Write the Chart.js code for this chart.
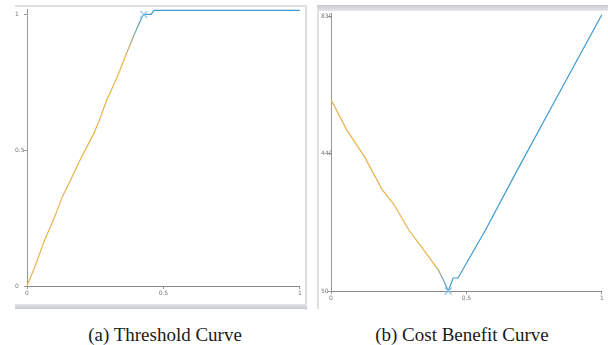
<!DOCTYPE html>
<html>
<head>
<meta charset="utf-8">
<script src="https://cdn.jsdelivr.net/npm/chart.js@4.4.0/dist/chart.umd.min.js"></script>
<style>
  body { margin: 0; background: #fff; width: 608px; height: 345px; overflow: hidden; position: relative; }
  .box { position: absolute; }
  canvas { position: absolute; }
  .cap { position: absolute; top: 325px; width: 260px; text-align: center; line-height: 19px;
         font-family: "Liberation Serif", serif; font-size: 19px; color: #1a1a1a; }
</style>
</head>
<body>
<!-- panel frames -->
<div class="box" style="left:15px;top:5px;width:292px;height:2px;background:#e0e0e4"></div>
<div class="box" style="left:305px;top:5px;width:2px;height:305px;background:#dcdcdf"></div>
<div class="box" style="left:15px;top:304px;width:292px;height:5px;background:linear-gradient(#e4e5ea,#c9cbd2)"></div>
<div class="box" style="left:317px;top:5px;width:2px;height:304px;background:#e0e0e3"></div>
<div class="box" style="left:317px;top:5px;width:291px;height:6px;background:linear-gradient(#c6c8ce,#e6e7ea)"></div>

<canvas id="threshold" width="291" height="304" style="left:15px;top:0px"></canvas>
<canvas id="costBenefit" width="287" height="310" style="left:321px;top:0px"></canvas>

<div class="cap" style="left:35px">(a) Threshold Curve</div>
<div class="cap" style="left:332px">(b) Cost Benefit Curve</div>

<script>
/* --------------- Threshold curve data --------------------- */
const thrX = [0, 0.03, 0.065, 0.10, 0.13, 0.16, 0.19, 0.217, 0.245, 0.265, 0.292, 0.33, 0.365, 0.392, 0.41, 0.424, 0.43, 0.455, 0.466, 0.6, 0.8, 1.0];
const thrY = [0, 0.074, 0.17, 0.25, 0.33, 0.39, 0.455, 0.507, 0.562, 0.61, 0.684, 0.768, 0.857, 0.923, 0.965, 0.995, 1.0, 1.0, 1.015, 1.015, 1.015, 1.015];
const thrMarker = [0.428, 1.0];
const thrXTicks = [0, 0.5, 1];
const thrYTicks = [0, 0.5, 1];

/* --------------- Cost benefit curve data --------------------- */
const cbX = [0, 0.058, 0.124, 0.189, 0.233, 0.287, 0.342, 0.396, 0.415, 0.433, 0.451, 0.469, 0.571, 0.687, 0.833, 1.0];
const cbY = [594, 508, 431, 338, 295, 224, 167, 110, 81, 50, 87, 87, 224, 392, 599, 835];
const cbMarker = [0.433, 50];
const cbXTicks = [0, 0.5, 1];
const cbYTicks = [50, 440, 830];

const orange = "#e9b24a";
const blue = "#3d9bd0";
const markerColor = "#8cc4e8";

// orange -> blue along x, like weka colours points by threshold
function curveColor(from, to) {
  return (context) => {
    const chart = context.chart;
    const area = chart.chartArea;
    if (!area) return orange;
    const xs = chart.scales.x;
    const g = chart.ctx.createLinearGradient(xs.getPixelForValue(from), 0, xs.getPixelForValue(to), 0);
    g.addColorStop(0, orange);
    g.addColorStop(1, blue);
    return g;
  };
}

function makeChart(el, xs, ys, marker, xTicks, yTicks, yMin, yMax, yWidth, xHeight, pad, grad) {
  const tickFont = { family: "DejaVu Sans", size: 6 };
  const fmt = (v) => String(v);
  return new Chart(el, {
    type: "scatter",
    data: {
      datasets: [
        {
          data: xs.map((x, i) => ({ x: x, y: ys[i] })),
          showLine: true,
          borderColor: curveColor(grad[0], grad[1]),
          borderWidth: 1.2,
          pointRadius: 0,
          order: 2,
        },
        {
          type: "scatter",
          data: [{ x: marker[0], y: marker[1] }],
          showLine: false,
          order: 1,
          pointStyle: "crossRot",
          pointRadius: 5,
          pointBorderWidth: 1.2,
          pointBorderColor: markerColor,
          pointBackgroundColor: markerColor,
          borderColor: markerColor,
          backgroundColor: markerColor,
        },
      ],
    },
    options: {
      responsive: false,
      animation: false,
      clip: false,
      layout: { padding: pad },
      plugins: { legend: { display: false }, tooltip: { enabled: false } },
      scales: {
        x: {
          type: "linear",
          min: 0,
          max: 1,
          afterBuildTicks: (s) => { s.ticks = xTicks.map((v) => ({ value: v })); },
          afterFit: (s) => { s.height = xHeight; },
          ticks: { font: tickFont, color: "#777", padding: 1, maxRotation: 0, callback: fmt },
          grid: { drawOnChartArea: false, tickLength: 3, color: "#999" },
          border: { color: "#888", width: 1 },
        },
        y: {
          type: "linear",
          min: yMin,
          max: yMax,
          afterBuildTicks: (s) => { s.ticks = yTicks.map((v) => ({ value: v })); },
          afterFit: (s) => { s.width = yWidth; },
          ticks: { font: tickFont, color: "#777", padding: 0, crossAlign: "far", callback: fmt },
          grid: { drawOnChartArea: false, tickLength: 3, color: "#999" },
          border: { color: "#999", width: 1 },
        },
      },
    },
  });
}

makeChart(document.getElementById("threshold"), thrX, thrY, thrMarker, thrXTicks, thrYTicks,
  0, 1.02, 12, 18, { top: 9, right: 2, left: 0, bottom: 0 }, [0.36, 0.42]);

makeChart(document.getElementById("costBenefit"), cbX, cbY, cbMarker, cbXTicks, cbYTicks,
  50, 840, 10, 19, { top: 13, right: 2, left: 0, bottom: 0 }, [0.38, 0.43]);
</script>
</body>
</html>
